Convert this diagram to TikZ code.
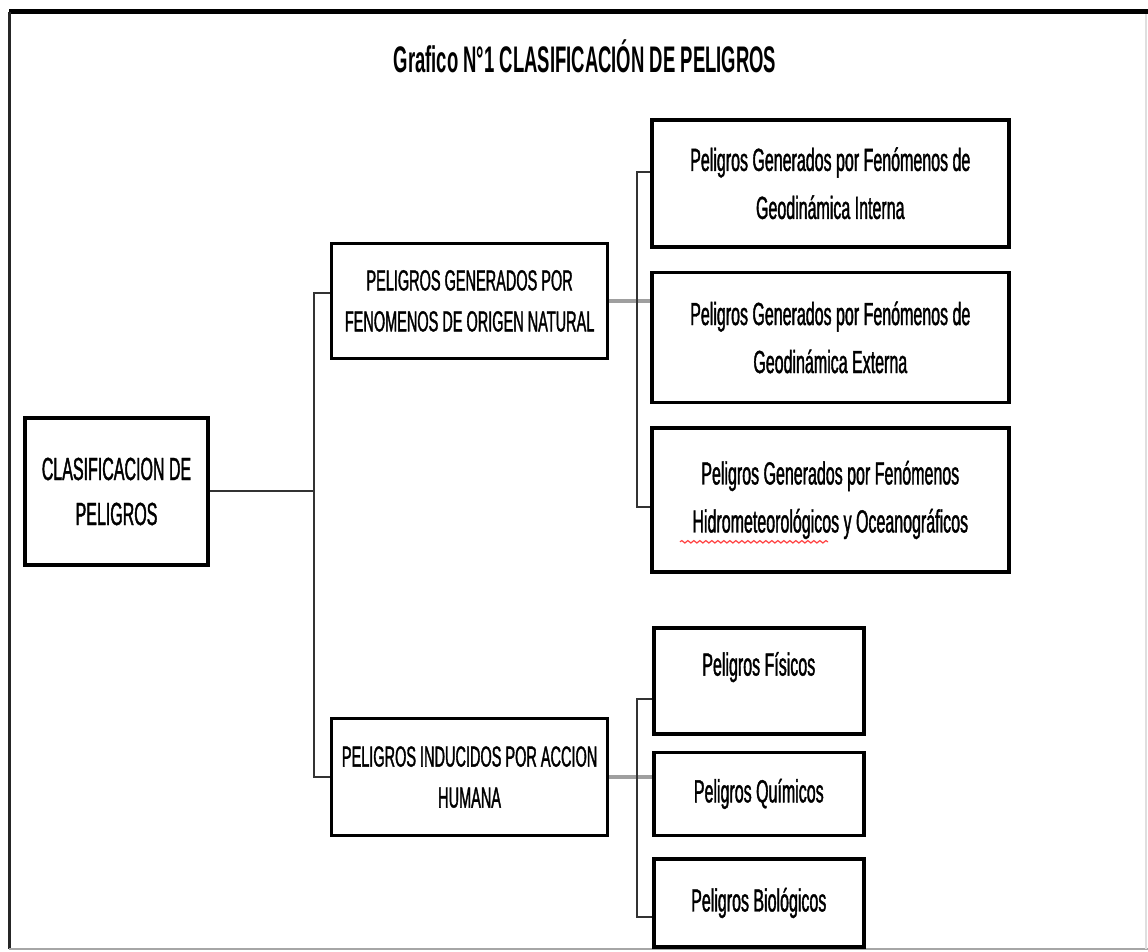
\documentclass[tikz,border=0pt]{standalone}
\usepackage{fontspec}
\setmainfont{Liberation Sans}[FakeStretch=0.5]
\newfontfamily\boxfont{Liberation Sans}[FakeStretch=0.5, FakeBold=1.2]
\usetikzlibrary{positioning,decorations.pathmorphing}

\begin{document}
\begin{tikzpicture}[
  x=0.5pt, y=-0.5pt,
  box/.style={draw, line width=1.8pt, align=center, inner sep=2pt},
  rootbox/.style={box, minimum width=91.5pt, minimum height=73.5pt, font=\boxfont\fontsize{16}{22.5}\selectfont},
  midbox/.style={box, minimum width=138pt, font=\boxfont\fontsize{14.5}{20.5}\selectfont},
  leaf/.style={box, anchor=north west, font=\boxfont\fontsize{16}{24}\selectfont},
  geo/.style={leaf, minimum width=178.5pt},
  hum/.style={leaf, minimum width=105pt},
  link/.style={line width=1pt, draw=black!80},
  trunk/.style={line width=1.8pt, draw=gray!75},
  ttl/.style={font=\fontsize{18.5}{22}\selectfont\bfseries}
]
\useasboundingbox (0,0) rectangle (1148,952);
% page frame
\draw[line width=2.5pt] (9,12) -- (1148,12);
\draw[line width=1.5pt, black!85] (9,12) -- (9,949);
\draw[line width=1pt, gray!70] (9,949) -- (1148,949);
\draw[line width=0.6pt, gray!25] (1146,14) -- (1146,949);

\node[ttl] (title) at (585,56) {Grafico N°1 CLASIFICACIÓN DE PELIGROS};

\node[rootbox] (root) at (116.5,491.5) {CLASIFICACION DE\\PELIGROS};
\node[midbox, minimum height=57.5pt, above right=28pt and 60pt of root] (nat) {PELIGROS GENERADOS POR\\FENOMENOS DE ORIGEN NATURAL};
\node[midbox, minimum height=58.5pt, below right=75pt and 60pt of root] (human) {PELIGROS INDUCIDOS POR ACCION\\HUMANA};

\node[geo, minimum height=63.5pt] (geoint) at (650,118) {Peligros Generados por Fenómenos de\\Geodinámica Interna};
\node[geo, minimum height=65pt, below=11pt of geoint] (geoext) {Peligros Generados por Fenómenos de\\Geodinámica Externa};
\node[geo, minimum height=72pt, below=11pt of geoext] (hidro) {Peligros Generados por Fenómenos\\Hidrometeorológicos y Oceanográficos};

\node[hum, minimum height=53pt, text depth=17pt] (fis) at (652,626) {Peligros Físicos};
\node[hum, minimum height=41.5pt, below=7.5pt of fis] (quim) {Peligros Químicos};
\node[hum, minimum height=44pt, below=10pt of quim] (bio) {Peligros Biológicos};

% spell-check underline
\draw[red!75, line width=0.6pt, decorate, decoration={snake, amplitude=0.6pt, segment length=3pt}]
  ([shift={(15pt,16pt)}]hidro.south west) -- ++(74pt,0);

% connectors
\draw[link] (root.east) -- ++(52pt,0) coordinate (b1);
\draw[link] ([yshift=3.75pt]nat.west) -| (b1) |- (human.west);
\draw[trunk] (nat.east) -- (nat.east -| geoext.west);
\coordinate (b2) at ([xshift=14pt]nat.east);
\draw[link] ([yshift=5.75pt]geoint.west) -| (b2) |- ([yshift=-3.5pt]hidro.west);
\draw[trunk] (human.east) -- (human.east -| quim.west);
\coordinate (b3) at ([xshift=14pt]human.east);
\draw[link] ([yshift=-9pt]fis.west) -| (b3) |- ([yshift=-7pt]bio.west);
\end{tikzpicture}
\end{document}
